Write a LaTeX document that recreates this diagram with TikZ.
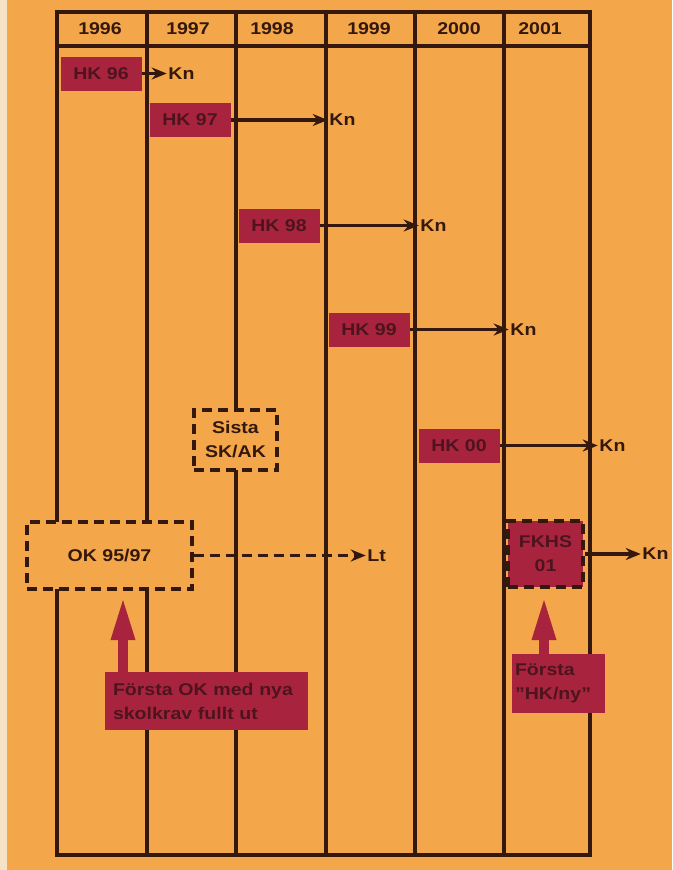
\documentclass[tikz,border=0pt]{standalone}
\usepackage{fontspec}
\setmainfont[FakeStretch=1.15]{Liberation Sans}
\usetikzlibrary{arrows.meta, positioning}
\definecolor{paper}{RGB}{243,167,74}
\definecolor{scanedge}{RGB}{246,226,196}
\definecolor{ink}{RGB}{52,24,14}
\definecolor{boxred}{RGB}{168,36,62}
\definecolor{boxtext}{RGB}{78,20,30}

\begin{document}
\begin{tikzpicture}[x=1pt, y=-1pt,
    every node/.style={font=\fontsize{17}{24}\selectfont\bfseries, text=ink},
    grid/.style={draw=ink, line width=3.5pt},
    hk/.style={fill=boxred, text=boxtext, minimum width=81pt, minimum height=34pt, inner sep=0pt},
    dbox/.style={draw=ink, dash pattern=on 10pt off 6pt, line width=3.5pt,
                 fill=paper, align=center, inner sep=0pt},
    lbl/.style={inner sep=1.5pt},
    arr/.style={-{Stealth[length=15pt, width=12pt]}, draw=ink, line width=3.5pt},
    darr/.style={arr, dash pattern=on 10pt off 6pt},
    note/.style={fill=boxred, text=boxtext, align=left, inner sep=0pt},
    uparr/.style={draw=boxred, line width=9.5pt, -{Triangle[length=40pt, width=25pt, line width=0pt]}}]
  \useasboundingbox (0,0) rectangle (672,870);
  \fill[paper] (0,0) rectangle (672,870);
  \fill[scanedge] (0,0) rectangle (7,870);

  \draw[grid] (57,12) rectangle (590,855);
  \draw[grid] (57,46) -- (590,46);
  \foreach \x in {147,236,326,415,504}
    \draw[grid] (\x,12) -- (\x,855);
  \foreach \x/\yr in {100/1996, 188/1997, 272/1998, 369/1999, 459/2000, 540/2001}
    \node (y\yr) at (\x,29) {\yr};

  \node[hk] (hk96) at (101,73.5) {HK 96};
  \node[hk] (hk97) at (190,120) {HK 97};
  \node[hk] (hk98) at (279,225.5) {HK 98};
  \node[hk] (hk99) at (369,329.5) {HK 99};
  \node[hk] (hk00) at (459,445.5) {HK 00};
  \node[lbl] (kn96) [right=25pt of hk96] {Kn};
  \node[lbl] (kn97) [right=97pt of hk97] {Kn};
  \node[lbl] (kn98) [right=99pt of hk98] {Kn};
  \node[lbl] (kn99) [right=99pt of hk99] {Kn};
  \node[lbl] (kn00) [right=98pt of hk00] {Kn};
  \draw[arr] (hk96)--(kn96); \draw[arr] (hk97)--(kn97);
  \draw[arr] (hk98)--(kn98); \draw[arr] (hk99)--(kn99);
  \draw[arr] (hk00)--(kn00);

  \node[dbox, minimum width=83pt, minimum height=60pt] (sista) at (235.5,440) {Sista\\SK/AK};
  \node[dbox, minimum width=165pt, minimum height=67pt] (ok) at (109.5,555.5) {OK 95/97};
  \node[lbl] (lt) [right=172pt of ok] {Lt};
  \draw[darr] (ok)--(lt);

  \node[dbox, fill=boxred, text=boxtext, preaction={draw=paper, solid},
        minimum width=75pt, minimum height=66pt] (fkhs) at (545.5,554) {FKHS\\01};
  \node[lbl] (kn01) [right=56pt of fkhs] {Kn};
  \draw[arr] (fkhs)--(kn01);

  \node[note, minimum width=203pt, minimum height=58pt, text width=187pt] (forsta) at (206.5,701)
    {Första OK med nya\\skolkrav fullt ut};
  \node[note, minimum width=93pt, minimum height=59pt, text width=87pt] (hkny) at (558.5,683.5)
    {Första\\”HK/ny”};
  \coordinate (okup) at (123,600);
  \coordinate (nyup) at (544,600);
  \draw[uparr] (forsta.north -| okup)--(okup);
  \draw[uparr] (hkny.north -| nyup)--(nyup);
\end{tikzpicture}
\end{document}
